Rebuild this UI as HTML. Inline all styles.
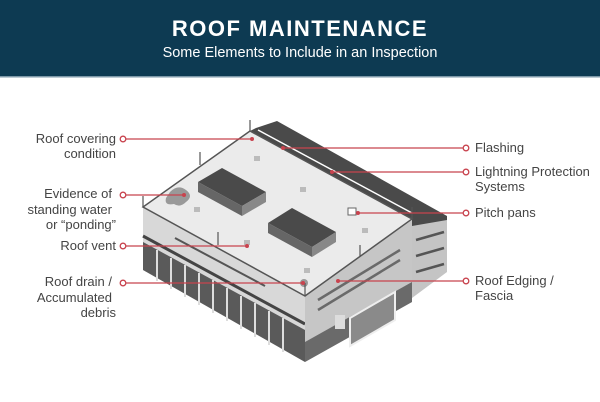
<!DOCTYPE html>
<html><head><meta charset="utf-8"><style>
html,body{margin:0;padding:0;width:600px;height:402px;overflow:hidden;background:#fff}
svg{display:block}
text{font-family:"Liberation Sans",sans-serif}
</style></head><body>
<svg width="600" height="402" viewBox="0 0 600 402" xmlns="http://www.w3.org/2000/svg">
<rect x="0" y="0" width="600" height="76" fill="#0d3a52"/>
<rect x="0" y="76" width="600" height="1.5" fill="#7d98a8"/>
<text x="300" y="36" text-anchor="middle" fill="#fff" font-size="22" font-weight="bold" letter-spacing="1.5">ROOF MAINTENANCE</text>
<text x="300" y="57" text-anchor="middle" fill="#fff" font-size="14.5">Some Elements to Include in an Inspection</text>

<!-- back building -->
<polygon points="256,128 277,121 447,216 447,226 412,232 412,219 250,131" fill="#4a4a4a"/>
<polygon points="412,226 447,220 447,272 412,298" fill="#c4c4c4"/>
<line x1="416" y1="240" x2="444" y2="232" stroke="#555" stroke-width="2.5"/>
<line x1="416" y1="256" x2="444" y2="248" stroke="#555" stroke-width="2.5"/>
<line x1="416" y1="272" x2="444" y2="264" stroke="#555" stroke-width="2.5"/>
<!-- left wall -->
<polygon points="143,208 305,296 305,362 143,270" fill="#d8d8d8"/>
<polygon points="143,242 305,330 305,362 143,270" fill="#5a5a5a"/>
<g stroke="#ddd" stroke-width="2">
<line x1="157" y1="250" x2="157" y2="281"/><line x1="171" y1="258" x2="171" y2="289"/><line x1="185" y1="265" x2="185" y2="297"/><line x1="199" y1="273" x2="199" y2="305"/><line x1="213" y1="280" x2="213" y2="313"/><line x1="227" y1="288" x2="227" y2="321"/><line x1="241" y1="296" x2="241" y2="329"/><line x1="255" y1="303" x2="255" y2="337"/><line x1="269" y1="311" x2="269" y2="345"/><line x1="283" y1="318" x2="283" y2="352"/>
</g>
<line x1="143" y1="236" x2="305" y2="324" stroke="#444" stroke-width="3"/>
<line x1="175" y1="238" x2="265" y2="286" stroke="#555" stroke-width="2"/>
<!-- right wall -->
<polygon points="305,296 412,220 412,302 305,362" fill="#c6c6c6"/>
<polygon points="305,342 412,282 412,302 305,362" fill="#6a6a6a"/>
<g stroke="#6a6a6a" stroke-width="2.5">
<line x1="318" y1="300" x2="400" y2="250"/><line x1="318" y1="310" x2="400" y2="260"/>
</g>
<polygon points="350,318 395,292 395,320 350,346" fill="#8a8a8a" stroke="#eee" stroke-width="2"/>
<rect x="335" y="315" width="10" height="14" fill="#ddd"/>
<!-- roof -->
<polygon points="250,131 412,219 305,296 143,207" fill="#ebebeb" stroke="#555" stroke-width="1.5"/>
<path d="M258,130 L412,213" stroke="#fff" stroke-width="1.5" fill="none"/>
<!-- ponding -->
<path d="M170,192 q8,-8 16,-2 q8,6 0,12 q-6,6 -12,2 q-10,2 -8,-6 z" fill="#999"/>
<!-- skylights -->
<polygon points="198,182 222,168 266,192 242,206" fill="#4a4a4a"/>
<polygon points="198,182 242,206 242,216 198,192" fill="#666"/>
<polygon points="242,206 266,192 266,202 242,216" fill="#888"/>
<polygon points="268,223 292,208 336,232 312,247" fill="#4a4a4a"/>
<polygon points="268,223 312,247 312,257 268,233" fill="#666"/>
<polygon points="312,247 336,232 336,242 312,257" fill="#888"/>
<!-- vents -->
<g fill="#bbb"><rect x="254" y="156" width="6" height="5"/><rect x="300" y="187" width="6" height="5"/><rect x="194" y="207" width="6" height="5"/><rect x="362" y="228" width="6" height="5"/><rect x="244" y="240" width="6" height="5"/><rect x="304" y="268" width="6" height="5"/><rect x="348" y="208" width="8" height="7" fill="#fff" stroke="#666"/></g>
<circle cx="304" cy="283" r="4" fill="#999"/>
<!-- lightning rods -->
<g stroke="#555" stroke-width="1.2"><line x1="250" y1="131" x2="250" y2="120"/><line x1="200" y1="165" x2="200" y2="152"/><line x1="143" y1="207" x2="143" y2="196"/><line x1="218" y1="245" x2="218" y2="232"/><line x1="305" y1="296" x2="305" y2="283"/><line x1="360" y1="256" x2="360" y2="245"/><line x1="412" y1="219" x2="412" y2="207"/></g>

<!-- connectors -->
<g stroke="#c8434e" stroke-width="1.3" fill="#fff">
<line x1="126" y1="139" x2="252" y2="139"/>
<line x1="126" y1="195" x2="184" y2="195"/>
<line x1="126" y1="246" x2="247" y2="246"/>
<line x1="126" y1="283" x2="303" y2="283"/>
<line x1="283" y1="148" x2="463" y2="148"/>
<line x1="332" y1="172" x2="463" y2="172"/>
<line x1="358" y1="213" x2="463" y2="213"/>
<line x1="338" y1="281" x2="463" y2="281"/>
<circle cx="123" cy="139" r="2.8"/><circle cx="123" cy="195" r="2.8"/><circle cx="123" cy="246" r="2.8"/><circle cx="123" cy="283" r="2.8"/>
<circle cx="466" cy="148" r="2.8"/><circle cx="466" cy="172" r="2.8"/><circle cx="466" cy="213" r="2.8"/><circle cx="466" cy="281" r="2.8"/>
</g>
<g fill="#c8434e"><circle cx="252" cy="139" r="2"/><circle cx="184" cy="195" r="2"/><circle cx="247" cy="246" r="2"/><circle cx="303" cy="283" r="2"/><circle cx="283" cy="148" r="2"/><circle cx="332" cy="172" r="2"/><circle cx="358" cy="213" r="2"/><circle cx="338" cy="281" r="2"/></g>

<g fill="#444" font-size="13" text-anchor="end">
<text x="116" y="143">Roof covering</text><text x="116" y="158">condition</text>
<text x="112" y="198">Evidence of</text><text x="112" y="214">standing water</text><text x="116" y="229">or “ponding”</text>
<text x="116" y="250">Roof vent</text>
<text x="112" y="286">Roof drain /</text><text x="112" y="302">Accumulated</text><text x="116" y="317">debris</text>
</g>
<g fill="#444" font-size="13">
<text x="475" y="152">Flashing</text>
<text x="475" y="176">Lightning Protection</text><text x="475" y="191">Systems</text>
<text x="475" y="217">Pitch pans</text>
<text x="475" y="285">Roof Edging /</text><text x="475" y="300">Fascia</text>
</g>
</svg>
</body></html>
